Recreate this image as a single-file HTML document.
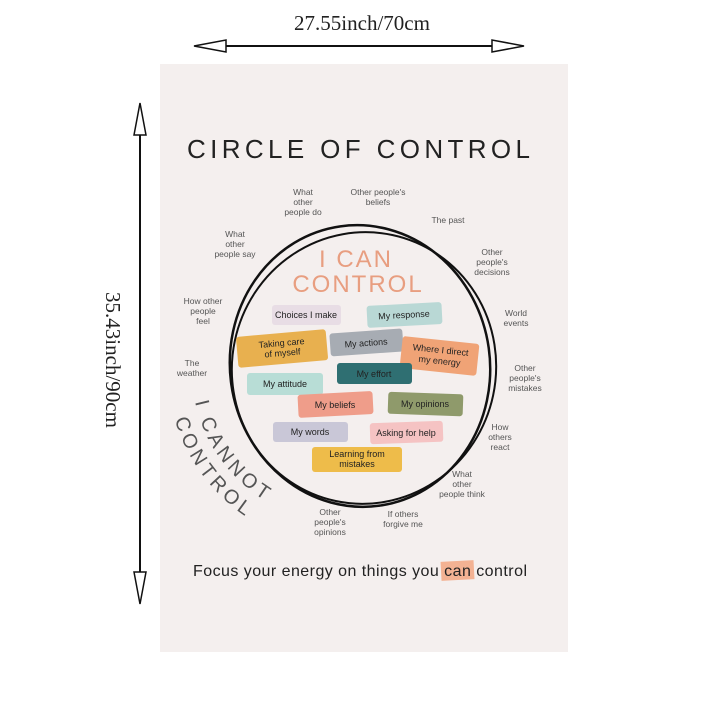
<!DOCTYPE html>
<html><head><meta charset="utf-8"><style>
html,body{margin:0;padding:0;background:#fff;}
svg{display:block}
.t{font-family:"Liberation Sans",sans-serif;}
.s{font-family:"Liberation Sans",sans-serif;font-size:8.5px;fill:#555;text-anchor:middle;}
.p{font-family:"Liberation Sans",sans-serif;font-size:9px;text-anchor:middle;fill:#222;}
</style></head><body>
<svg width="720" height="720" viewBox="0 0 720 720">
<rect x="0" y="0" width="720" height="720" fill="#fff"/>
<rect x="160" y="64" width="408" height="588" fill="#f4efee"/>
<text x="362" y="30" font-family="Liberation Serif,serif" font-size="21" text-anchor="middle" fill="#222">27.55inch/70cm</text>
<line x1="225" y1="46" x2="492" y2="46" stroke="#111" stroke-width="2"/>
<polygon points="194,46 226,40 226,52" fill="#fff" stroke="#111" stroke-width="1.5"/>
<polygon points="524,46 492,40 492,52" fill="#fff" stroke="#111" stroke-width="1.5"/>
<line x1="140" y1="135" x2="140" y2="572" stroke="#111" stroke-width="2"/>
<polygon points="140,103 134,135 146,135" fill="#fff" stroke="#111" stroke-width="1.5"/>
<polygon points="140,604 134,572 146,572" fill="#fff" stroke="#111" stroke-width="1.5"/>
<text transform="translate(106,360) rotate(90)" font-family="Liberation Serif,serif" font-size="21" text-anchor="middle" fill="#222">35.43inch/90cm</text>
<text x="187" y="158" class="t" font-size="26" fill="#222" textLength="343" lengthAdjust="spacing">CIRCLE OF CONTROL</text>
<ellipse cx="360" cy="366" rx="130" ry="141" transform="rotate(-8 360 366)" fill="none" stroke="#111" stroke-width="2.5"/>
<ellipse cx="364" cy="368" rx="132" ry="136" transform="rotate(12 364 368)" fill="none" stroke="#111" stroke-width="2"/>
<text x="356" y="267" class="t" font-size="24" text-anchor="middle" fill="#e89e80" letter-spacing="2">I CAN</text>
<text x="358" y="292" class="t" font-size="24" text-anchor="middle" fill="#e89e80" letter-spacing="2">CONTROL</text>
<g>
<rect x="272" y="305" width="69" height="20" rx="3" fill="#e8dde5"/><text x="306" y="318" class="p">Choices I make</text>
<rect x="367" y="304" width="75" height="22" rx="3" fill="#b9d8d5" transform="rotate(-3 404 315)"/><text x="404" y="318" class="p" transform="rotate(-3 404 315)">My response</text>
<rect x="237" y="333" width="90" height="31" rx="3" fill="#e8b04f" transform="rotate(-5 282 348)"/><text x="282" y="346" class="p" fill="#fbe7c0" transform="rotate(-5 282 348)">Taking care</text><text x="282" y="356" class="p" fill="#fbe7c0" transform="rotate(-5 282 348)">of myself</text>
<rect x="330" y="331" width="73" height="23" rx="3" fill="#a7acb3" transform="rotate(-4 366 342)"/><text x="366" y="346" class="p" fill="#e6e8ea" transform="rotate(-4 366 342)">My actions</text>
<rect x="401" y="340" width="77" height="32" rx="3" fill="#f0a376" transform="rotate(6 440 356)"/><text x="440" y="353" class="p" transform="rotate(6 440 356)">Where I direct</text><text x="440" y="364" class="p" transform="rotate(6 440 356)">my energy</text>
<rect x="337" y="363" width="75" height="21" rx="3" fill="#2f6f72"/><text x="374" y="377" class="p" fill="#d7ecec">My effort</text>
<rect x="247" y="373" width="76" height="22" rx="3" fill="#b8ddd6"/><text x="285" y="387" class="p">My attitude</text>
<rect x="298" y="393" width="75" height="23" rx="3" fill="#ef9d8a" transform="rotate(-3 335 404)"/><text x="335" y="408" class="p" fill="#fbe2da">My beliefs</text>
<rect x="388" y="393" width="75" height="22" rx="3" fill="#8f9a6b" transform="rotate(2 425 404)"/><text x="425" y="407" class="p" fill="#eef0e0">My opinions</text>
<rect x="273" y="422" width="75" height="20" rx="3" fill="#c9c7d7"/><text x="310" y="435" class="p">My words</text>
<rect x="370" y="422" width="73" height="21" rx="3" fill="#f5c3c3" transform="rotate(-2 406 432)"/><text x="406" y="436" class="p">Asking for help</text>
<rect x="312" y="447" width="90" height="25" rx="3" fill="#eebc4a"/><text x="357" y="457" class="p">Learning from</text><text x="357" y="467" class="p">mistakes</text>
</g>
<g>
<text x="303" y="195" class="s">What</text><text x="303" y="205" class="s">other</text><text x="303" y="215" class="s">people do</text>
<text x="378" y="195" class="s">Other people's</text><text x="378" y="205" class="s">beliefs</text>
<text x="448" y="223" class="s">The past</text>
<text x="492" y="255" class="s">Other</text><text x="492" y="265" class="s">people's</text><text x="492" y="275" class="s">decisions</text>
<text x="516" y="316" class="s">World</text><text x="516" y="326" class="s">events</text>
<text x="525" y="371" class="s">Other</text><text x="525" y="381" class="s">people's</text><text x="525" y="391" class="s">mistakes</text>
<text x="500" y="430" class="s">How</text><text x="500" y="440" class="s">others</text><text x="500" y="450" class="s">react</text>
<text x="462" y="477" class="s">What</text><text x="462" y="487" class="s">other</text><text x="462" y="497" class="s">people think</text>
<text x="403" y="517" class="s">If others</text><text x="403" y="527" class="s">forgive me</text>
<text x="330" y="515" class="s">Other</text><text x="330" y="525" class="s">people's</text><text x="330" y="535" class="s">opinions</text>
<text x="192" y="366" class="s">The</text><text x="192" y="376" class="s">weather</text>
<text x="203" y="304" class="s">How other</text><text x="203" y="314" class="s">people</text><text x="203" y="324" class="s">feel</text>
<text x="235" y="237" class="s">What</text><text x="235" y="247" class="s">other</text><text x="235" y="257" class="s">people say</text>
</g>
<defs>
<path id="a1" d="M 192 372 A 168 156 0 0 0 360 528"/>
<path id="a2" d="M 168 372 A 192 180 0 0 0 360 552"/>
</defs>
<text class="t" font-size="20" fill="#555" letter-spacing="4"><textPath href="#a1" startOffset="30">I CANNOT</textPath></text>
<text class="t" font-size="20" fill="#555" letter-spacing="4"><textPath href="#a2" startOffset="48">CONTROL</textPath></text>
<rect x="441" y="561" width="33" height="19" fill="#f3b293" transform="rotate(-3 457 570)"/>
<text x="193" y="576" class="t" font-size="16" fill="#222" textLength="334" lengthAdjust="spacing">Focus your energy on things you can control</text>
</svg>
</body></html>
